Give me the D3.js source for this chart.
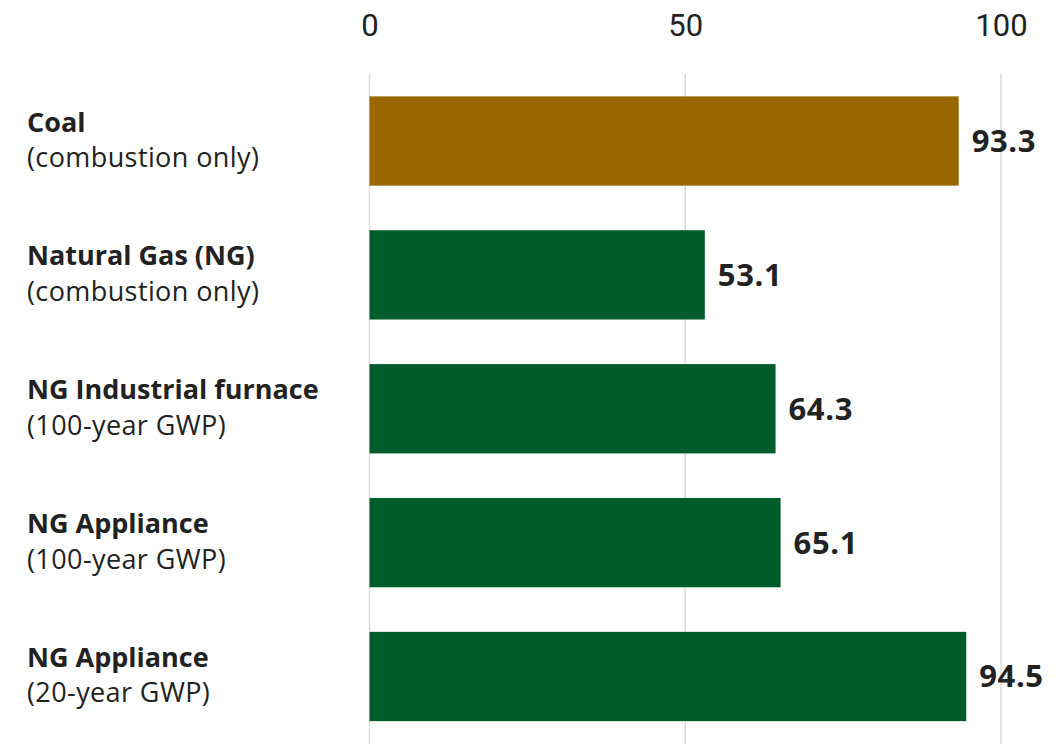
<!DOCTYPE html>
<html>
<head>
<meta charset="utf-8">
<script src="https://cdn.jsdelivr.net/npm/d3@7"></script>
<style>
  body { margin: 0; background: #fff; }
  svg { display: block; }
</style>
</head>
<body>
<svg id="chart" width="1063" height="744"></svg>
<script>
// data
const categories = ["Coal", "Natural Gas (NG)", "NG Industrial furnace", "NG Appliance", "NG Appliance"];
const subtitles = ["(combustion only)", "(combustion only)", "(100-year GWP)", "(100-year GWP)", "(20-year GWP)"];
const values = [93.3, 53.1, 64.3, 65.1, 94.5];
const barColors = ["#996600", "#005c2b", "#005c2b", "#005c2b", "#005c2b"];
const tickValues = [0, 50, 100];

const svg = d3.select("#chart");
const width = 1063, height = 744;
const labelFont = "'Open Sans', 'Noto Sans', sans-serif";

const x = d3.scaleLinear()
    .domain([0, 100])
    .range([369.5, 1001]);

const y = d3.scaleBand()
    .domain(d3.range(values.length))
    .range([74, 743.5])
    .paddingInner(0.333)
    .paddingOuter(0.167);

// grid lines
svg.append("g")
    .attr("class", "grid")
    .selectAll("line")
    .data(tickValues)
    .enter().append("line")
    .attr("x1", d => x(d))
    .attr("x2", d => x(d))
    .attr("y1", 74)
    .attr("y2", height)
    .attr("stroke", "#dcdcdc")
    .attr("stroke-width", 1.5);

// top axis labels
const axis = d3.axisTop(x).tickValues(tickValues).tickSize(0).tickPadding(0);
const axisG = svg.append("g")
    .attr("transform", "translate(0,36)")
    .call(axis);
axisG.select(".domain").remove();
axisG.selectAll("text")
    .attr("font-family", "'Liberation Sans Narrow', 'Roboto', sans-serif")
    .attr("font-size", 31)
    .attr("fill", "#222");

// bars
svg.append("g")
    .selectAll("rect")
    .data(values)
    .enter().append("rect")
    .attr("x", x(0))
    .attr("y", (d, i) => y(i))
    .attr("width", d => x(d) - x(0))
    .attr("height", y.bandwidth())
    .attr("fill", (d, i) => barColors[i]);

// value labels
svg.append("g")
    .selectAll("text")
    .data(values)
    .enter().append("text")
    .attr("x", d => x(d) + 13)
    .attr("y", (d, i) => y(i) + y.bandwidth() / 2 + 11)
    .attr("font-family", labelFont)
    .attr("font-weight", "bold")
    .attr("font-size", 31)
    .attr("letter-spacing", 0.6)
    .attr("fill", "#222")
    .text(d => d.toFixed(1));

// category labels
const labels = svg.append("g")
    .selectAll("text")
    .data(categories)
    .enter().append("text")
    .attr("font-family", labelFont)
    .attr("font-size", 27)
    .attr("fill", "#222");

labels.append("tspan")
    .attr("x", 27)
    .attr("y", (d, i) => y(i) + y.bandwidth() / 2 - 9.5)
    .attr("font-weight", "bold")
    .text(d => d);

labels.append("tspan")
    .attr("x", 27)
    .attr("y", (d, i) => y(i) + y.bandwidth() / 2 + 26)
    .attr("letter-spacing", 0.4)
    .text((d, i) => subtitles[i]);
</script>
</body>
</html>
